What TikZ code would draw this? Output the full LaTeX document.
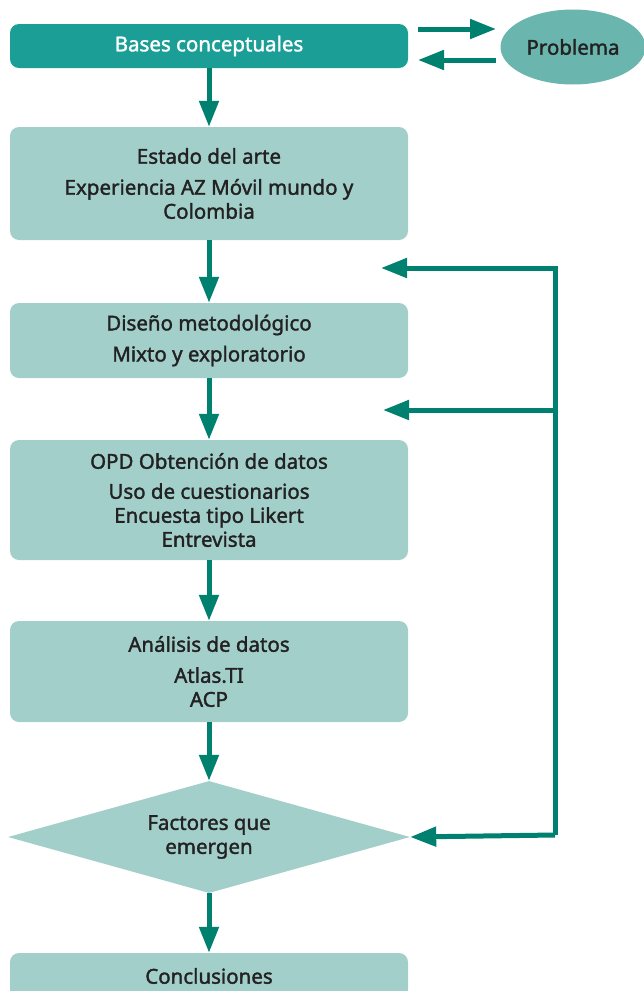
\documentclass[tikz,border=0pt]{standalone}
\usepackage{fontspec}
\setmainfont{Noto Sans}[FakeBold=1.6]
\usetikzlibrary{positioning}
\usetikzlibrary{shapes.geometric}
\usetikzlibrary{arrows.meta}
\pgfdeclarelayer{nodelayer}
\pgfdeclarelayer{edgelayer}
\pgfsetlayers{nodelayer,edgelayer,main}
\definecolor{tealdark}{HTML}{1B9E96}
\definecolor{teallight}{HTML}{A3CFCB}
\definecolor{tealmid}{HTML}{6BB5AF}
\definecolor{tealline}{HTML}{00806F}
\definecolor{textgray}{HTML}{222222}
\tikzset{
    none/.style = {inner sep=0pt},
    box/.style = {rectangle, rounded corners=9pt, fill=teallight, text=textgray,
        minimum width=398pt, inner sep=0pt, align=center,
        font=\fontsize{20.5}{24}\selectfont},
    darkbox/.style = {box, fill=tealdark, text=white},
    flow/.style = {line width=5pt, draw=tealline,
        -{Triangle[length=26pt, width=19pt]}}
}

\begin{document}
\begin{tikzpicture}[x=1pt, y=-1pt]
    \useasboundingbox (0, 0) rectangle (644, 991);
    \begin{pgfonlayer}{nodelayer}
        \node [style=darkbox, minimum height=44pt] (0) at (209, 46) {Bases conceptuales};
        \node [ellipse, fill=tealmid, text=textgray, minimum width=145pt, minimum height=75pt,
            font=\fontsize{20.5}{24}\selectfont] (1) at (573, 47) {\raisebox{-5pt}{Problema}};
        \node [style=box, minimum height=113pt] (2) at (209, 183.5)
            {Estado del arte\\[7pt] Experiencia AZ Móvil mundo y\\ Colombia};
        \node [style=box, minimum height=75pt] (3) at (209, 340.5)
            {Diseño metodológico\\[7pt] Mixto y exploratorio};
        \node [style=box, minimum height=120pt] (4) at (209, 500)
            {OPD Obtención de datos\\[6pt] Uso de cuestionarios\\ Encuesta tipo Likert\\ Entrevista};
        \node [style=box, minimum height=101pt] (5) at (209, 671.5)
            {Análisis de datos\\[7pt] Atlas.TI\\ ACP};
        \node [diamond, fill=teallight, text=textgray, inner sep=0pt, aspect=3.6,
            minimum width=402pt, minimum height=112pt, align=center,
            font=\fontsize{20.5}{24}\selectfont] (6) at (209, 837) {Factores que\\ emergen};
        \node [style=box, minimum height=46pt] (7) at (209, 976) {Conclusiones};
        \node [style=none] (8) at (418, 29) {};
        \node [style=none] (9) at (496, 29) {};
        \node [style=none] (10) at (496, 60) {};
        \node [style=none] (11) at (418, 60) {};
        \node [style=none] (12) at (555, 268) {};
        \node [style=none] (13) at (381, 268) {};
        \node [style=none] (14) at (555, 410) {};
        \node [style=none] (15) at (383, 410) {};
        \node [style=none] (16) at (555, 835) {};
    \end{pgfonlayer}
    \begin{pgfonlayer}{edgelayer}
        \draw [style=flow] (8.center) to (9.center);
        \draw [style=flow] (10.center) to (11.center);
        \draw [style=flow] (0) to (2);
        \draw [style=flow] (2) to (3);
        \draw [style=flow] (3) to (4);
        \draw [style=flow] (4) to (5);
        \draw [style=flow] (5) to (6);
        \draw [style=flow] (6) to (7);
        \draw [style=flow] (16.center) to (12.center) to (13.center);
        \draw [style=flow] (14.center) to (15.center);
        \draw [style=flow] (16.center) to (6.east);
    \end{pgfonlayer}
\end{tikzpicture}
\end{document}
